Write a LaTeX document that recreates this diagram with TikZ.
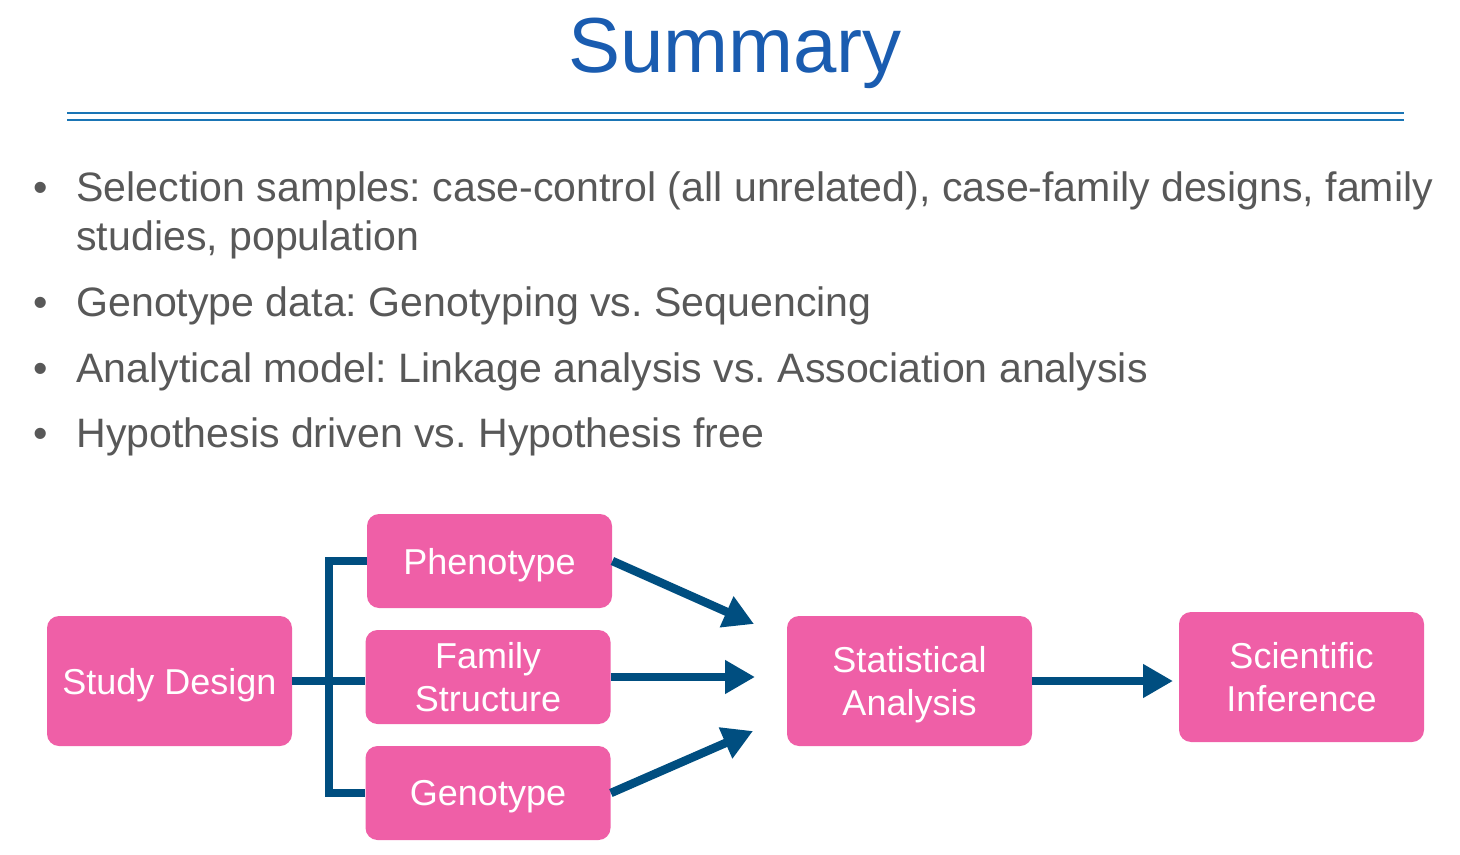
\documentclass[tikz,border=0pt]{standalone}
\usepackage{fontspec}
\setmainfont{Liberation Sans}
\usetikzlibrary{arrows.meta}
\definecolor{pinkbox}{RGB}{239,95,167}
\definecolor{navy}{RGB}{0,78,128}
\definecolor{titleblue}{RGB}{26,92,176}
\definecolor{rulecol}{RGB}{26,117,181}
\definecolor{txtgray}{RGB}{88,88,88}
\frenchspacing
\begin{document}
\begin{tikzpicture}[x=0.5pt,y=-0.5pt,
  box/.style={fill=pinkbox, rounded corners=6pt, text=white, minimum width=122.5pt,
    align=center, inner sep=0pt, text depth=0pt, font=\fontsize{18}{21.5}\selectfont},
  smallbox/.style={box, minimum height=47pt},
  bigbox/.style={box, minimum height=65pt},
  conn/.style={draw=navy, line width=4.25pt, line join=miter},
  arr/.style={conn, -{Triangle[length=15pt,width=16pt]}},
  btext/.style={anchor=base west, inner sep=0pt, text=txtgray, font=\fontsize{20.55}{24}\selectfont},
  bmark/.style={anchor=base, inner sep=0pt, text=txtgray, font=\fontsize{20.55}{24}\selectfont},
  rulestyle/.style={draw=rulecol, line width=1pt}]
\useasboundingbox (0,0) rectangle (1460,855);

% title
\node[anchor=base, inner sep=0pt, text=titleblue, font=\fontsize{39}{39}\selectfont] (title) at (735,73) {Summary};
\coordinate (r1a) at (67,113); \coordinate (r1b) at (1404,113);
\coordinate (r2a) at (67,120); \coordinate (r2b) at (1404,120);
\draw[rulestyle] (r1a) -- (r1b);
\draw[rulestyle] (r2a) -- (r2b);

% bullets
\node[bmark] (m1) at (41,202) {\textbullet};
\node[btext] (b1) at (76,202) {Selection samples: case-control (all unrelated), case-family designs, family};
\node[btext] (b1b) at (76,251) {studies, population};
\node[bmark] (m2) at (41,317) {\textbullet};
\node[btext] (b2) at (76,317) {Genotype data: Genotyping vs. Sequencing};
\node[bmark] (m3) at (41,382) {\textbullet};
\node[btext] (b3) at (76,382) {Analytical model: Linkage analysis vs. Association analysis};
\node[bmark] (m4) at (41,447) {\textbullet};
\node[btext] (b4) at (76,447) {Hypothesis driven vs. Hypothesis free};

% boxes
\node[bigbox] (sd) at (169.5,681) {Study Design};
\node[smallbox] (ph) at (489.5,561) {Phenotype};
\node[smallbox] (fs) at (488,677) {Family\\Structure};
\node[smallbox] (gt) at (488,793) {Genotype};
\node[bigbox] (sa) at (909.5,681) {Statistical\\Analysis};
\node[bigbox] (si) at (1301.5,677) {Scientific\\Inference};

% bracket
\coordinate (brtop) at (329,561);
\coordinate (brbot) at (329,793);
\draw[conn] (ph.west) -- (brtop) -- (brbot) -- (gt.west);
\draw[conn] (sd.east) -- (sd.east -| fs.west);

% arrows
\coordinate (tipA) at (754,624);
\coordinate (tipB) at (755,677);
\coordinate (tipC) at (753,731);
\coordinate (tipD) at (1173,681);
\draw[arr] (ph.east) -- (tipA);
\draw[arr] (fs.east) -- (tipB);
\draw[arr] (gt.east) -- (tipC);
\draw[arr] (sa.east) -- (tipD);
\end{tikzpicture}
\end{document}
